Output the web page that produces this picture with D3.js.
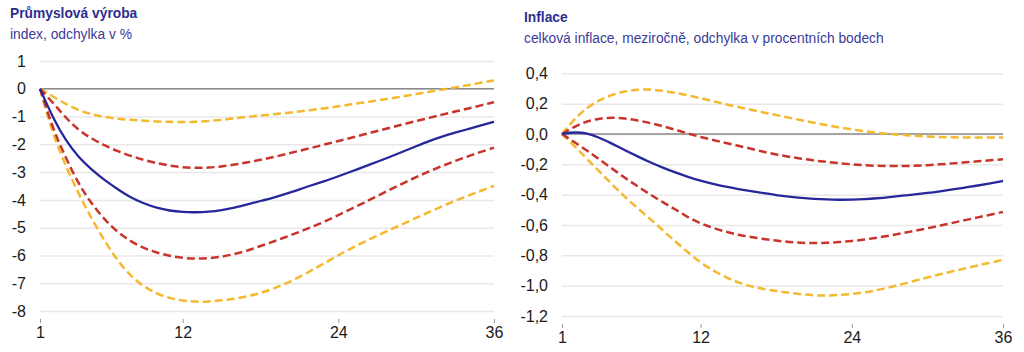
<!DOCTYPE html>
<html>
<head>
<meta charset="utf-8">
<title>Průmyslová výroba a inflace</title>
<style>
	body { margin: 0; background: #fff; }
	svg { display: block; font-family: "Liberation Sans", Arial, sans-serif; }
	.title { font-size: 13.8px; font-weight: bold; fill: #2d2e8f; }
	.subtitle { font-size: 13.8px; fill: #3a3b99; }
	.axis text { font-size: 16px; fill: #1a1a1a; }
	.grid line { stroke: #e8e8e8; stroke-width: 1.5; }
	.xaxis line { stroke: #999; }
</style>
</head>
<body>
<script src="https://cdn.jsdelivr.net/npm/d3@7"></script>
<script>

// months after the shock
var months = d3.range(1, 37);
var xTicks = [1, 12, 24, 36];

// Průmyslová výroba (index, odchylka v %)
var ipTicks = [1, 0, -1, -2, -3, -4, -5, -6, -7, -8];
var ipYellowUp = [0, -0.28, -0.55, -0.78, -0.93, -1.02, -1.08, -1.12, -1.15, -1.18, -1.19, -1.2, -1.19, -1.16, -1.12, -1.06, -1.01, -0.96, -0.92, -0.87, -0.82, -0.76, -0.7, -0.63, -0.56, -0.49, -0.42, -0.35, -0.27, -0.19, -0.11, -0.03, 0.05, 0.13, 0.215, 0.3];
var ipRedUp = [0, -0.5, -1.05, -1.5, -1.8, -2.05, -2.25, -2.42, -2.56, -2.68, -2.77, -2.83, -2.85, -2.84, -2.8, -2.73, -2.65, -2.56, -2.46, -2.35, -2.23, -2.12, -2.0, -1.88, -1.76, -1.64, -1.52, -1.4, -1.28, -1.16, -1.05, -0.93, -0.82, -0.71, -0.6, -0.48];
var ipBlue = [0, -1.05, -1.88, -2.48, -2.92, -3.3, -3.62, -3.92, -4.13, -4.29, -4.39, -4.44, -4.45, -4.43, -4.37, -4.28, -4.16, -4.04, -3.92, -3.78, -3.62, -3.46, -3.32, -3.15, -2.98, -2.8, -2.63, -2.45, -2.26, -2.07, -1.88, -1.72, -1.58, -1.45, -1.32, -1.19];
var ipRedLo = [0, -1.45, -2.5, -3.45, -4.15, -4.72, -5.17, -5.5, -5.74, -5.9, -6.02, -6.09, -6.12, -6.1, -6.05, -5.95, -5.83, -5.66, -5.5, -5.33, -5.15, -4.97, -4.77, -4.55, -4.32, -4.1, -3.86, -3.63, -3.4, -3.18, -2.97, -2.78, -2.6, -2.43, -2.27, -2.12];
var ipYellowLo = [0, -1.65, -2.8, -3.8, -4.7, -5.5, -6.2, -6.75, -7.12, -7.38, -7.54, -7.63, -7.67, -7.66, -7.62, -7.56, -7.48, -7.35, -7.2, -7.0, -6.78, -6.52, -6.26, -5.99, -5.74, -5.51, -5.29, -5.07, -4.86, -4.65, -4.44, -4.23, -4.03, -3.85, -3.67, -3.5];

// Inflace (meziročně, odchylka v p. b.)
var infTicks = [0.4, 0.2, 0, -0.2, -0.4, -0.6, -0.8, -1.0, -1.2];
var infYellowUp = [0, 0.1, 0.175, 0.225, 0.26, 0.282, 0.293, 0.295, 0.285, 0.272, 0.255, 0.236, 0.216, 0.196, 0.177, 0.16, 0.142, 0.125, 0.108, 0.09, 0.074, 0.058, 0.043, 0.03, 0.018, 0.008, 0.0, -0.006, -0.012, -0.017, -0.02, -0.022, -0.023, -0.024, -0.024, -0.024];
var infRedUp = [0, 0.05, 0.085, 0.103, 0.108, 0.103, 0.09, 0.072, 0.052, 0.028, 0.003, -0.02, -0.04, -0.06, -0.078, -0.097, -0.118, -0.135, -0.15, -0.163, -0.175, -0.184, -0.193, -0.2, -0.206, -0.21, -0.212, -0.212, -0.21, -0.206, -0.2, -0.194, -0.187, -0.18, -0.173, -0.167];
var infBlue = [0, 0.013, 0.006, -0.025, -0.065, -0.107, -0.148, -0.187, -0.222, -0.254, -0.283, -0.308, -0.33, -0.348, -0.363, -0.377, -0.39, -0.403, -0.413, -0.422, -0.428, -0.432, -0.434, -0.433, -0.43, -0.424, -0.416, -0.407, -0.398, -0.389, -0.378, -0.366, -0.353, -0.34, -0.325, -0.31];
var infRedLo = [0, -0.055, -0.11, -0.17, -0.23, -0.29, -0.345, -0.4, -0.45, -0.497, -0.55, -0.59, -0.62, -0.645, -0.665, -0.68, -0.692, -0.703, -0.712, -0.718, -0.72, -0.718, -0.713, -0.706, -0.696, -0.684, -0.67, -0.655, -0.638, -0.622, -0.604, -0.586, -0.568, -0.55, -0.532, -0.514];
var infYellowLo = [0, -0.08, -0.165, -0.25, -0.335, -0.415, -0.49, -0.56, -0.635, -0.71, -0.78, -0.85, -0.9, -0.945, -0.98, -1.005, -1.022, -1.035, -1.047, -1.057, -1.064, -1.066, -1.062, -1.055, -1.045, -1.03, -1.01, -0.99, -0.968, -0.946, -0.925, -0.905, -0.886, -0.867, -0.848, -0.83];

var blue = "#26279b";
var red = "#c8342c";
var yellow = "#f3b92f";

var cz = d3.formatLocale({ decimal: ",", thousands: " ", grouping: [3], currency: ["", " Kč"], minus: "-" });

var svg = d3.select("body").append("svg")
	.attr("width", 1024)
	.attr("height", 352);

function panel(p) {
	var g = svg.append("g");

	g.append("text").attr("class", "title")
		.attr("x", p.left).attr("y", p.titleY)
		.text(p.title);
	g.append("text").attr("class", "subtitle")
		.attr("x", p.left).attr("y", p.titleY + 21)
		.text(p.subtitle);

	var x = d3.scaleLinear().domain([1, 36]).range([p.x0, p.x1]);
	var y = d3.scaleLinear().domain(p.yDomain).range([p.y1, p.y0]);

	// gridlines + y labels
	var ya = g.append("g")
		.attr("class", "axis grid")
		.attr("transform", "translate(" + p.x0 + ",0)")
		.call(d3.axisLeft(y).tickValues(p.ticks).tickSize(-(p.x1 - p.x0)).tickPadding(14).tickFormat(cz.format(p.fmt)));
	ya.select(".domain").remove();

	// zero line
	g.append("line")
		.attr("x1", p.x0).attr("x2", p.x1)
		.attr("y1", y(0)).attr("y2", y(0))
		.attr("stroke", "#8a8a8a").attr("stroke-width", 1.5);

	// x axis
	var xa = g.append("g")
		.attr("class", "axis xaxis")
		.attr("transform", "translate(0," + (p.y1 + 8) + ")")
		.call(d3.axisBottom(x).tickValues(xTicks).tickSize(4).tickPadding(4).tickFormat(d3.format("d")));
	xa.select(".domain").remove();

	var line = d3.line()
		.x(function(d, i) { return x(months[i]); })
		.y(function(d) { return y(d); })
		.curve(d3.curveBasis);

	p.series.forEach(function(s) {
		g.append("path")
			.datum(s.values)
			.attr("fill", "none")
			.attr("stroke", s.color)
			.attr("stroke-width", s.dash ? 2.5 : 2.3)
			.attr("stroke-dasharray", s.dash ? "8,4" : null)
			.attr("d", line);
	});
}

panel({
	title: "Průmyslová výroba",
	subtitle: "index, odchylka v %",
	left: 10, titleY: 18,
	x0: 40, x1: 494, y0: 61, y1: 311,
	yDomain: [-8, 1], ticks: ipTicks, fmt: "d",
	series: [
		{ values: ipYellowUp, color: yellow, dash: true },
		{ values: ipYellowLo, color: yellow, dash: true },
		{ values: ipRedUp, color: red, dash: true },
		{ values: ipRedLo, color: red, dash: true },
		{ values: ipBlue, color: blue, dash: false }
	]
});

panel({
	title: "Inflace",
	subtitle: "celková inflace, meziročně, odchylka v procentních bodech",
	left: 524, titleY: 22,
	x0: 562, x1: 1003, y0: 73.3, y1: 316,
	yDomain: [-1.2, 0.4], ticks: infTicks, fmt: ".1f",
	series: [
		{ values: infYellowUp, color: yellow, dash: true },
		{ values: infYellowLo, color: yellow, dash: true },
		{ values: infRedUp, color: red, dash: true },
		{ values: infRedLo, color: red, dash: true },
		{ values: infBlue, color: blue, dash: false }
	]
});

</script>
</body>
</html>
